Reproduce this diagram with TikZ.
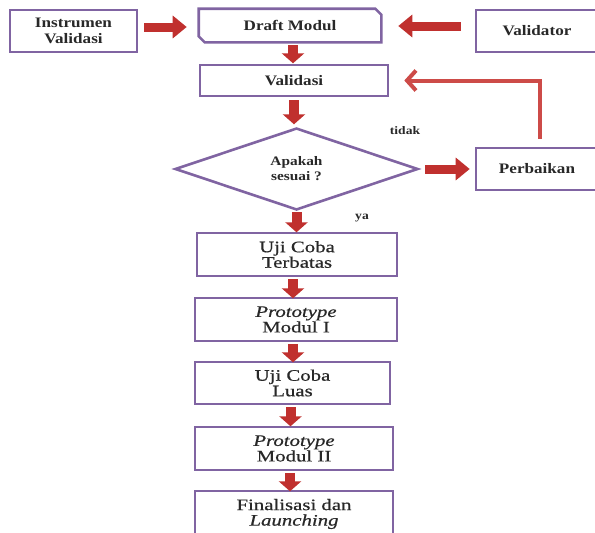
\documentclass[tikz,border=0pt]{standalone}
\usepackage{fontspec}
\setmainfont{Liberation Serif}
\newfontfamily\upfont[FakeStretch=1.18]{Liberation Serif}
\newfontfamily\lowfont[FakeStretch=1.3,FakeBold=0.6]{Liberation Serif}
\usetikzlibrary{arrows.meta,shapes.geometric,calc}
\definecolor{boxpurple}{RGB}{128,100,162}
\definecolor{arrred}{RGB}{192,48,46}
\definecolor{loopred}{RGB}{205,75,72}
\definecolor{txt}{RGB}{40,40,40}
\tikzset{
  box/.style={draw=boxpurple, line width=2.6pt, text=txt, align=center, inner sep=0pt},
  upbox/.style={box, font=\upfont\bfseries\fontsize{14.5}{16}\selectfont},
  lowbox/.style={box, font=\lowfont\fontsize{16}{15.5}\selectfont},
  bigarrow/.style={arrred, line width=9pt, -{Triangle[length=14pt,width=22pt]}},
  downarrow/.style={arrred, line width=10pt, -{Triangle[length=10pt,width=22pt]}},
  smalllabel/.style={font=\upfont\bfseries\fontsize{11.5}{12}\selectfont, text=txt},
}
\begin{document}
\begin{tikzpicture}[x=1pt,y=-1pt]
\clip (0,0) rectangle (595,533);
\fill[white] (0,0) rectangle (595,533);
% boxes
\node[upbox, minimum width=127pt, minimum height=42pt] (instr) at (73.5,31) {Instrumen\\Validasi};
\node[upbox, draw=none, minimum width=180pt, minimum height=31pt] (draft) at (290,25.5) {Draft Modul};
\draw[boxpurple, line width=2.6pt]
  (draft.north west) -- ($(draft.north east)+(-6,0)$)
  -- ($(draft.north east)+(0,6)$) -- (draft.south east)
  -- ($(draft.south west)+(6,0)$) -- ($(draft.south west)+(0,-6)$) -- cycle;
\node[upbox, minimum width=122pt, minimum height=42pt] (valr) at (537,31) {Validator};
\node[upbox, minimum width=188pt, minimum height=31pt] (valid) at (294,80.5) {Validasi};
\node[upbox, shape=diamond, minimum width=243pt, minimum height=82pt, font=\upfont\bfseries\fontsize{13}{15}\selectfont] (dec) at (296.5,169) {Apakah\\sesuai ?};
\node[upbox, minimum width=122pt, minimum height=42pt] (perb) at (537,169) {Perbaikan};
\node[lowbox, minimum width=200pt, minimum height=43pt] (ujt) at (297,254.5) {Uji Coba\\Terbatas};
\node[lowbox, minimum width=202pt, minimum height=43pt] (p1) at (296,319.5) {\textit{Prototype}\\Modul I};
\node[lowbox, minimum width=195pt, minimum height=42pt] (ujl) at (292.5,383) {Uji Coba\\Luas};
\node[lowbox, minimum width=198pt, minimum height=43pt] (p2) at (294,448.5) {\textit{Prototype}\\Modul II};
\node[lowbox, minimum width=198pt, minimum height=46pt] (fin) at (294,514) {Finalisasi dan\\\textit{Launching}};
% labels
\node[smalllabel] (tidak) at (405,131) {tidak};
\node[smalllabel] (ya) at (362,218) {ya};
% arrows
\coordinate (a1s) at ($(instr.east)+(6,-4)$);
\draw[bigarrow] (a1s) -- ($(draft.west |- a1s)+(-12,0)$);
\coordinate (a2s) at ($(valr.west)+(-14,-5)$);
\draw[bigarrow] (a2s) -- ($(draft.east |- a2s)+(17,0)$);
\draw[downarrow] ($(draft.south)+(3,3)$) -- ($(draft.south)+(3,21)$);
\draw[downarrow] ($(valid.south)+(0,3)$) -- ($(valid.south)+(0,27)$);
\draw[bigarrow] ($(dec.east)+(6,0)$) -- ($(perb.west)+(-5,0)$);
\draw[downarrow] ($(dec.south)+(0,1)$) -- ($(dec.south)+(0,21)$);
\draw[downarrow] ($(ujt.south)+(-4,2)$) -- ($(ujt.south)+(-4,21)$);
\draw[downarrow] ($(p1.south)+(-3,2)$) -- ($(p1.south)+(-3,20)$);
\draw[downarrow] ($(ujl.south)+(-2,2)$) -- ($(ujl.south)+(-2,21)$);
\draw[downarrow] ($(p2.south)+(-4,2)$) -- ($(p2.south)+(-4,20)$);
\coordinate (loopc) at ($(perb.north)+(3,-8)$);
\draw[loopred, line width=4pt, -{Straight Barb[length=9pt,width=20pt]}]
  (loopc) |- ($(valid.east)+(15,0)$);
\end{tikzpicture}
\end{document}
